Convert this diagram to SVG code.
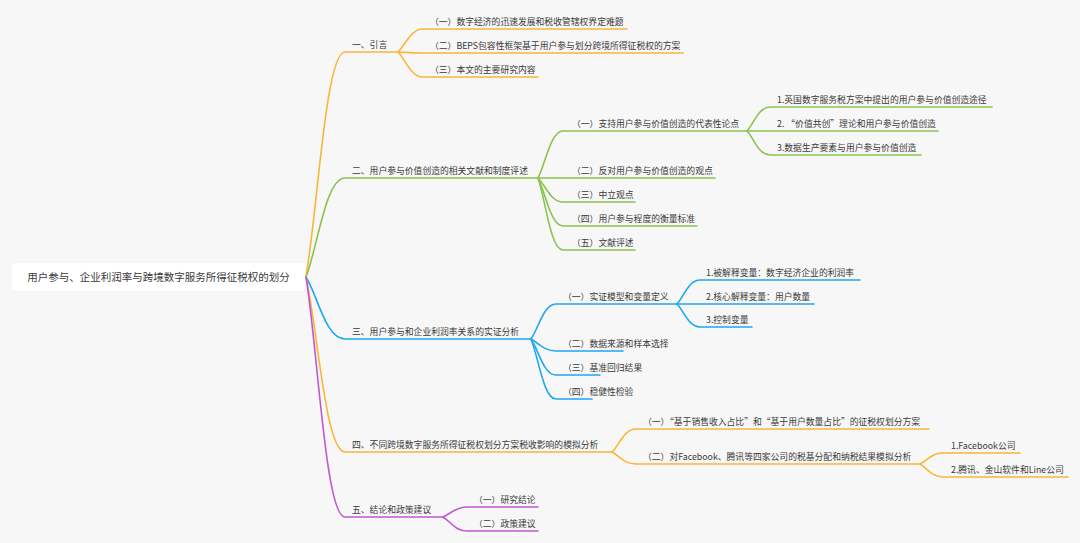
<svg xmlns="http://www.w3.org/2000/svg" width="1080" height="543" viewBox="0 0 1080 543">
<style>
.bg{fill:#f7f7f7}
.c{fill:none;stroke-width:1.6;stroke-linecap:round}
.o{stroke:#f9b638}
.g{stroke:#8cc34f}
.b{stroke:#1ea8f0}
.p{stroke:#c058cf}
text{font-family:"Noto Sans CJK SC","Noto Sans",sans-serif;fill:#3a3a3a;font-size:8.8px}
.root{font-size:10.5px;text-anchor:middle}
</style>
<rect class="bg" x="0" y="0" width="1080" height="543"/>
<g id="connectors">
<path class="c o" d="M306,277 C317.7,209.5 325.5,52 345,52 L398,52"/>
<path class="c g" d="M306,277 C317.7,247.3 325.5,178 345,178 L538,178"/>
<path class="c b" d="M306,277 C317.7,295.6 325.5,339 345,339 L531,339"/>
<path class="c o" d="M306,277 C317.7,329.5 325.5,452 345,452 L612,452"/>
<path class="c p" d="M306,277 C317.7,349 325.5,517 345,517 L443,517"/>
<path class="c o" d="M398,52 C405.5,45.1 410.5,29 423,29 L627,29"/>
<path class="c o" d="M398,52 C405.5,52.3 410.5,53 423,53 L683,53"/>
<path class="c o" d="M398,52 C405.5,59.5 410.5,77 423,77 L538,77"/>
<path class="c g" d="M538,178 C545.5,163.9 550.5,131 563,131 L747,131"/>
<path class="c g" d="M538,178 C545.5,178 550.5,178 563,178 L715,178"/>
<path class="c g" d="M538,178 C545.5,185.2 550.5,202 563,202 L635,202"/>
<path class="c g" d="M538,178 C545.5,192.4 550.5,226 563,226 L697,226"/>
<path class="c g" d="M538,178 C545.5,199.6 550.5,250 563,250 L635,250"/>
<path class="c g" d="M747,131 C753.9,123.8 758.5,107 770,107 L992,107"/>
<path class="c g" d="M747,131 L938,131"/>
<path class="c g" d="M747,131 C753.9,138.2 758.5,155 770,155 L921,155"/>
<path class="c b" d="M531,339 C538.5,328.5 543.5,304 556,304 L677,304"/>
<path class="c b" d="M531,339 C538.5,342.6 543.5,351 556,351 L623,351"/>
<path class="c b" d="M531,339 C538.5,349.8 543.5,375 556,375 L600,375"/>
<path class="c b" d="M531,339 C538.5,357 543.5,399 556,399 L592,399"/>
<path class="c b" d="M677,304 C683.9,296.8 688.5,280 700,280 L860,280"/>
<path class="c b" d="M677,304 L814,304"/>
<path class="c b" d="M677,304 C683.9,310.9 688.5,327 700,327 L752,327"/>
<path class="c o" d="M612,452 C619.2,445.1 624,429 636,429 L929,429"/>
<path class="c o" d="M612,452 C619.2,455.6 624,464 636,464 L920,464"/>
<path class="c o" d="M920,464 C926.9,460.7 931.5,453 943,453 L1020,453"/>
<path class="c o" d="M920,464 C926.9,467.9 931.5,477 943,477 L1068,477"/>
<path class="c p" d="M443,517 C450.2,514 455,507 467,507 L538,507"/>
<path class="c p" d="M443,517 C450.2,521.2 455,531 467,531 L538,531"/>
</g>
<g id="root">
<rect x="12" y="263" width="293" height="28" rx="4" fill="#ffffff"/>
<text class="root" x="158.5" y="281">用户参与、企业利润率与跨境数字服务所得征税权的划分</text>
</g>
<g id="n1"><text x="352" y="48">一、引言</text></g>
<g id="n1-1"><text x="430" y="25">（一）数字经济的迅速发展和税收管辖权界定难题</text></g>
<g id="n1-2"><text x="430" y="49">（二）BEPS包容性框架基于用户参与划分跨境所得征税权的方案</text></g>
<g id="n1-3"><text x="430" y="73">（三）本文的主要研究内容</text></g>
<g id="n2"><text x="352" y="174">二、用户参与价值创造的相关文献和制度评述</text></g>
<g id="n2-1"><text x="572" y="127">（一）支持用户参与价值创造的代表性论点</text></g>
<g id="n2-1-1"><text x="777" y="103">1.英国数字服务税方案中提出的用户参与价值创造途径</text></g>
<g id="n2-1-2"><text x="777" y="127">2. “价值共创”理论和用户参与价值创造</text></g>
<g id="n2-1-3"><text x="777" y="151">3.数据生产要素与用户参与价值创造</text></g>
<g id="n2-2"><text x="572" y="174">（二）反对用户参与价值创造的观点</text></g>
<g id="n2-3"><text x="572" y="198">（三）中立观点</text></g>
<g id="n2-4"><text x="572" y="222">（四）用户参与程度的衡量标准</text></g>
<g id="n2-5"><text x="572" y="246">（五）文献评述</text></g>
<g id="n3"><text x="352" y="335">三、用户参与和企业利润率关系的实证分析</text></g>
<g id="n3-1"><text x="563" y="300">（一）实证模型和变量定义</text></g>
<g id="n3-1-1"><text x="706" y="276">1.被解释变量：数字经济企业的利润率</text></g>
<g id="n3-1-2"><text x="706" y="300">2.核心解释变量：用户数量</text></g>
<g id="n3-1-3"><text x="706" y="323">3.控制变量</text></g>
<g id="n3-2"><text x="563" y="347">（二）数据来源和样本选择</text></g>
<g id="n3-3"><text x="563" y="371">（三）基准回归结果</text></g>
<g id="n3-4"><text x="563" y="395">（四）稳健性检验</text></g>
<g id="n4"><text x="352" y="448">四、不同跨境数字服务所得征税权划分方案税收影响的模拟分析</text></g>
<g id="n4-1"><text x="643" y="425">（一）“基于销售收入占比”和“基于用户数量占比”的征税权划分方案</text></g>
<g id="n4-2"><text x="643" y="460">（二）对Facebook、腾讯等四家公司的税基分配和纳税结果模拟分析</text></g>
<g id="n4-2-1"><text x="951" y="449">1.Facebook公司</text></g>
<g id="n4-2-2"><text x="951" y="473">2.腾讯、金山软件和Line公司</text></g>
<g id="n5"><text x="352" y="513">五、结论和政策建议</text></g>
<g id="n5-1"><text x="474" y="503">（一）研究结论</text></g>
<g id="n5-2"><text x="474" y="527">（二）政策建议</text></g>
</svg>
